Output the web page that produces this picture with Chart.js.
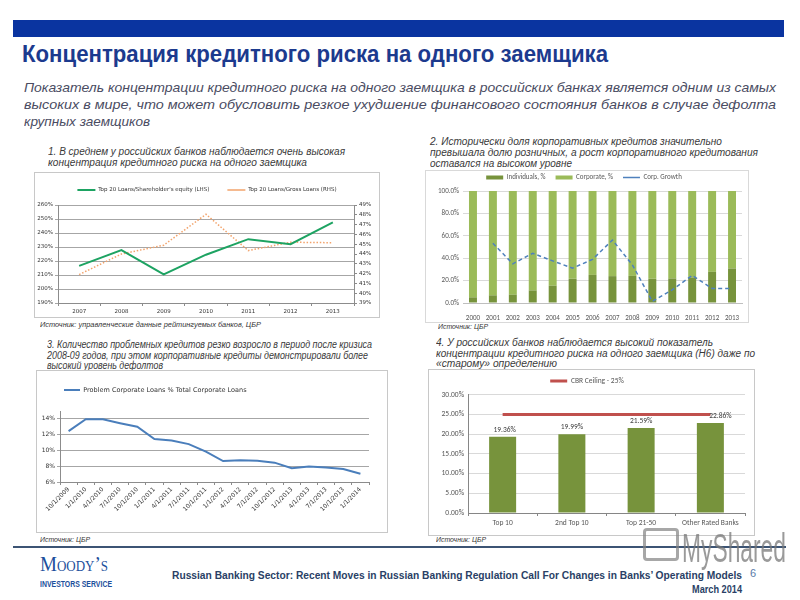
<!DOCTYPE html>
<html lang="ru"><head><meta charset="utf-8"><title>Концентрация кредитного риска на одного заемщика</title>
<script src="https://cdn.jsdelivr.net/npm/chart.js@4.4.1/dist/chart.umd.min.js"></script>
<style>
html,body{margin:0;padding:0;}
body{width:800px;height:600px;position:relative;overflow:hidden;background:#fff;font-family:"Liberation Sans",Arial,sans-serif;}
.t{position:absolute;white-space:nowrap;display:inline-block;transform-origin:0 50%;}
.n{font-family:"Liberation Sans Narrow","Liberation Sans",Arial,sans-serif;}
.cap{font-style:italic;font-size:10px;line-height:10px;color:#3A3A3A;}
.sub{font-style:italic;font-size:13px;line-height:13px;color:#4A4C62;}
.src{font-style:italic;font-size:8px;line-height:8px;color:#333;}
.box{position:absolute;box-sizing:border-box;border:1px solid #C8C8C8;background:#fff;}
canvas{position:absolute;}
</style></head><body>
<div style="position:absolute;left:13px;top:20px;width:771px;height:17px;background:#0A34A0"></div>
<div class="t n" data-w="586" style="left:22px;top:41.5px;font-weight:bold;font-size:24px;line-height:24px;color:#1C3A8E">Концентрация кредитного риска на одного заемщика</div>
<div class="t n sub" data-w="752" style="left:24px;top:80.5px">Показатель концентрации кредитного риска на одного заемщика в российских банках является одним из самых</div>
<div class="t n sub" data-w="752" style="left:24px;top:97.5px">высоких в мире, что может обусловить резкое ухудшение финансового состояния банков в случае дефолта</div>
<div class="t n sub" data-w="126" style="left:24px;top:114.5px">крупных заемщиков</div>

<div class="t n cap" data-w="297" style="left:48px;top:147px">1. В среднем у российских банков наблюдается очень высокая</div>
<div class="t n cap" data-w="259" style="left:48px;top:158px">концентрация кредитного риска на одного заемщика</div>
<div class="box" style="left:34px;top:172px;width:346px;height:146px"></div>
<canvas id="c1" width="344" height="144" style="left:35px;top:173px"></canvas>
<div class="t n src" data-w="221" style="left:40px;top:321px">Источник: управленческие данные рейтингуемых банков, ЦБР</div>

<div class="t n cap" data-w="292" style="left:430px;top:137px">2. Исторически доля корпоративных кредитов значительно</div>
<div class="t n cap" data-w="328" style="left:430px;top:148px">превышала долю розничных, а рост корпоративного кредитования</div>
<div class="t n cap" data-w="142" style="left:430px;top:159px">оставался на высоком уровне</div>
<div class="box" style="left:425px;top:170px;width:324px;height:153px;border-color:#D9D9D9"></div>
<canvas id="c2" width="322" height="151" style="left:426px;top:171px"></canvas>
<div class="t n src" data-w="50" style="left:438px;top:323px">Источник: ЦБР</div>

<div class="t n cap" data-w="325" style="left:47px;top:340px">3. Количество проблемных кредитов резко возросло в период после кризиса</div>
<div class="t n cap" data-w="321" style="left:47px;top:351px">2008-09 годов, при этом корпоративные кредиты демонстрировали более</div>
<div class="t n cap" data-w="116" style="left:47px;top:361px">высокий уровень дефолтов</div>
<div class="box" style="left:36px;top:370px;width:352px;height:163px"></div>
<canvas id="c3" width="350" height="161" style="left:37px;top:371px"></canvas>
<div class="t n src" data-w="50" style="left:40px;top:536px">Источник: ЦБР</div>

<div class="t n cap" data-w="277" style="left:436px;top:338px">4. У российских банков наблюдается высокий показатель</div>
<div class="t n cap" data-w="319" style="left:436px;top:349px">концентрации кредитного риска на одного заемщика (Н6) даже по</div>
<div class="t n cap" data-w="121" style="left:436px;top:359px">«старому» определению</div>
<div class="box" style="left:428px;top:369px;width:327px;height:167px"></div>
<canvas id="c4" width="325" height="165" style="left:429px;top:370px"></canvas>
<div class="t n src" data-w="50" style="left:436px;top:536px">Источник: ЦБР</div>

<div style="position:absolute;left:13px;top:546px;width:773px;height:2px;background:#3C5474"></div>
<div class="t" data-w="68" style="left:40px;top:553px;font-family:'Liberation Serif',serif;font-variant:small-caps;font-size:22px;line-height:22px;color:#1C4F9C">Moody’s</div>
<div class="t" data-w="72" style="left:40px;top:580px;font-weight:bold;font-size:8.5px;line-height:9px;color:#1C4F9C">INVESTORS SERVICE</div>
<div class="t n" data-w="570" style="left:172px;top:569px;font-weight:bold;font-size:11.5px;line-height:12px;color:#2A3F66">Russian Banking Sector: Recent Moves in Russian Banking Regulation Call For Changes in Banks’ Operating Models</div>
<div class="t n" data-w="50" style="left:692px;top:583px;font-weight:bold;font-size:11.5px;line-height:12px;color:#2A3F66">March 2014</div>
<div class="t n" style="left:750px;top:567px;font-size:11px;line-height:12px;color:#5A7AA8">6</div>
<div style="position:absolute;left:643px;top:528px;width:30px;height:27px;border:3px solid rgba(130,130,130,0.7);border-radius:4px"></div>
<div class="t" data-w="104" style="left:682px;top:527px;font-size:40px;line-height:42px;color:rgba(120,120,120,0.75)">MyShared</div>

<script>
// ---------- data ----------
const c1Years = ['2007','2008','2009','2010','2011','2012','2013'];
const c1EquityPct = [216.5, 227.8, 210.5, 224.5, 235.6, 232.0, 247.6];
const c1GrossPct = [41.9, 44.0, 44.9, 48.05, 44.35, 45.2, 45.15];
const c1LeftTicks = [190, 200, 210, 220, 230, 240, 250, 260];
const c1RightTicks = [39, 40, 41, 42, 43, 44, 45, 46, 47, 48, 49];

const c2Years = ['2000','2001','2002','2003','2004','2005','2006','2007','2008','2009','2010','2011','2012','2013'];
const c2Individuals = [5.0, 6.8, 7.4, 11.2, 15.4, 21.6, 25.1, 24.0, 24.2, 21.6, 21.9, 22.8, 27.8, 30.8];
const c2Corporate = [95.0, 93.2, 92.6, 88.8, 84.6, 78.4, 74.9, 76.0, 75.8, 78.4, 78.1, 77.2, 72.2, 69.2];
const c2CorpGrowth = [null, 53.3, 35.0, 44.4, 37.6, 31.1, 39.0, 56.2, 34.0, 1.5, 11.8, 24.6, 13.0, 13.0];
const c2Ticks = [0, 10, 20, 30, 40, 50, 60, 70, 80, 90, 100];

const c3Dates = ['10/1/2009','1/1/2010','4/1/2010','7/1/2010','10/1/2010','1/1/2011','4/1/2011','7/1/2011','10/1/2011','1/1/2012','4/1/2012','7/1/2012','10/1/2012','1/1/2013','4/1/2013','7/1/2013','10/1/2013','1/1/2014'];
const c3ProblemLoans = [12.45, 13.95, 13.95, 13.45, 13.0, 11.45, 11.25, 10.8, 9.85, 8.65, 8.75, 8.7, 8.45, 7.75, 7.95, 7.85, 7.65, 7.05];
const c3Ticks = [6, 8, 10, 12, 14];

const c4Groups = ['Top 10', '2nd Top 10', 'Top 21-50', 'Other Rated Banks'];
const c4Concentration = [19.36, 19.99, 21.59, 22.86];
const c4Ceiling = [25, 25, 25, 25];
const c4Ticks = [0, 5, 10, 15, 20, 25, 30];

// ---------- text fitting ----------
function fitText(){
  document.querySelectorAll('[data-w]').forEach(el=>{
    el.style.transform='none';
    const w = el.getBoundingClientRect().width;
    el.style.transform = 'scaleX(' + (parseFloat(el.dataset.w)/w) + ')';
  });
}
fitText();

// ---------- chart helpers ----------
Chart.defaults.animation = false;
Chart.defaults.responsive = false;
Chart.defaults.maintainAspectRatio = false;
Chart.defaults.devicePixelRatio = 1;
Chart.defaults.events = [];
Chart.defaults.plugins.tooltip.enabled = false;
const F1 = "'DejaVu Sans', sans-serif";
const F2 = "Carlito, Lato, sans-serif";
Chart.defaults.font.family = F2;
const tickSet = arr => scale => { scale.ticks = arr.map(v => ({value: v})); };
const fixW = w => s => { s.width = w; };
const fixH = h => s => { s.height = h; };

// chart 1
new Chart(document.getElementById('c1'), {
  type: 'line',
  data: { labels: c1Years, datasets: [
    { label: "Top 20 Loans/Shareholder's equity (LHS)", data: c1EquityPct, yAxisID: 'y', borderColor: '#1DA362', backgroundColor: '#1DA362', borderWidth: 2, pointRadius: 0, pointStyle: 'line' },
    { label: 'Top 20 Loans/Gross Loans (RHS)', data: c1GrossPct, yAxisID: 'y2', borderColor: '#F2A36B', backgroundColor: '#F2A36B', borderWidth: 1.5, borderDash: [1.5, 1.8], pointRadius: 0, pointStyle: 'line' }
  ]},
  options: {
    layout: { padding: { top: -3.75, left: 0, right: 0, bottom: 0 } },
    plugins: {
      legend: { labels: { usePointStyle: true, pointStyleWidth: 18, boxHeight: 2, padding: 18, font: { family: F1, size: 5.5 }, color: '#333' } },
      title: { display: true, text: '', weight: 500, padding: 0, font: { size: 2.25, lineHeight: 1 } }
    },
    scales: {
      x: { offset: true, grid: { offset: true, drawOnChartArea: false, tickLength: 3, color: '#8C8C8C' }, border: { color: '#8C8C8C' },
           ticks: { font: { family: F1, size: 5.5 }, color: '#333', padding: 2, maxRotation: 0, autoSkip: false }, afterFit: fixH(14) },
      y: { min: 190, max: 260, afterBuildTicks: tickSet(c1LeftTicks), grid: { color: '#A6A6A6', tickLength: 3 }, border: { color: '#8C8C8C' },
           ticks: { font: { family: F1, size: 5.5 }, color: '#333', padding: 2, callback: v => v + '%' }, afterFit: fixW(23) },
      y2: { position: 'right', min: 39, max: 49, afterBuildTicks: tickSet(c1RightTicks), grid: { drawOnChartArea: false, tickLength: 3, color: '#8C8C8C' }, border: { color: '#8C8C8C' },
           ticks: { font: { family: F1, size: 5.5 }, color: '#333', padding: 2, callback: v => v + '%' }, afterFit: fixW(25) }
    }
  }
});

// chart 2
new Chart(document.getElementById('c2'), {
  type: 'bar',
  data: { labels: c2Years, datasets: [
    { label: 'Individuals, %', data: c2Individuals, backgroundColor: '#77933C', stack: 'share', pointStyle: 'rect', order: 1 },
    { label: 'Corporate, %', data: c2Corporate, backgroundColor: '#9BBB59', stack: 'share', pointStyle: 'rect', order: 1 },
    { type: 'line', label: 'Corp. Growth', data: c2CorpGrowth, borderColor: '#4F81BD', backgroundColor: '#4F81BD', borderWidth: 1.5, borderDash: [4, 3], pointRadius: 0, pointStyle: 'line', stack: 'growth', order: 0 }
  ]},
  options: {
    layout: { padding: { top: -7, left: 0, right: 6, bottom: 0 } },
    datasets: { bar: { categoryPercentage: 1, barPercentage: 0.4 } },
    plugins: {
      legend: { labels: { usePointStyle: true, pointStyleWidth: 17, boxHeight: 4, padding: 10, font: { family: F2, size: 7 }, color: '#595959', sort: (a, b) => a.datasetIndex - b.datasetIndex } }
    },
    scales: {
      x: { stacked: true, grid: { display: false }, border: { color: '#BFBFBF' },
           ticks: { font: { family: F2, size: 7 }, color: '#595959', padding: 3, maxRotation: 0, autoSkip: false }, afterFit: fixH(19) },
      y: { stacked: true, min: 0, max: 100, afterBuildTicks: tickSet(c2Ticks), grid: { color: '#D9D9D9', drawTicks: false }, border: { display: false },
           ticks: { font: { family: F2, size: 7 }, color: '#595959', padding: 4, callback: v => v.toFixed(1) + '%' }, afterFit: fixW(37) }
    }
  }
});

// chart 3
new Chart(document.getElementById('c3'), {
  type: 'line',
  data: { labels: c3Dates, datasets: [
    { label: 'Problem Corporate Loans % Total Corporate Loans', data: c3ProblemLoans, borderColor: '#4A7EBB', backgroundColor: '#4A7EBB', borderWidth: 2, pointRadius: 0, pointStyle: 'line' }
  ]},
  options: {
    layout: { padding: { top: -11.25, left: 0, right: 18, bottom: 0 } },
    plugins: {
      legend: { align: 'start', labels: { usePointStyle: true, pointStyleWidth: 16, boxHeight: 2, padding: 27, font: { family: F1, size: 6.5 }, color: '#333' } },
      title: { display: true, text: '', weight: 500, padding: 0, font: { size: 7.75, lineHeight: 1 } }
    },
    scales: {
      x: { offset: true, grid: { offset: true, drawOnChartArea: false, tickLength: 3, color: '#8C8C8C' }, border: { color: '#8C8C8C' },
           ticks: { font: { family: F1, size: 6 }, color: '#333', padding: 1, minRotation: 45, maxRotation: 45, autoSkip: false }, afterFit: fixH(50) },
      y: { min: 6, max: 15, afterBuildTicks: tickSet(c3Ticks), grid: { color: '#A6A6A6', tickLength: 3 }, border: { color: '#8C8C8C' },
           ticks: { font: { family: F1, size: 6 }, color: '#333', padding: 2, callback: v => v + '%' }, afterFit: fixW(23) }
    }
  }
});

// chart 4
const c4LabelShift = [2, 0, 0, 10];
const barValueLabels = {
  id: 'barValueLabels',
  afterDatasetsDraw(chart) {
    const meta = chart.getDatasetMeta(0);
    const ctx = chart.ctx;
    ctx.save();
    ctx.font = '7.5px ' + F2;
    ctx.fillStyle = '#404040';
    ctx.textAlign = 'center';
    ctx.textBaseline = 'bottom';
    meta.data.forEach((el, i) => {
      ctx.fillText(chart.data.datasets[0].data[i].toFixed(2) + '%', el.x + c4LabelShift[i], el.y - 3);
    });
    ctx.restore();
  }
};
new Chart(document.getElementById('c4'), {
  type: 'bar',
  data: { labels: c4Groups, datasets: [
    { label: 'H6', data: c4Concentration, backgroundColor: '#77933C', order: 1, categoryPercentage: 1, barPercentage: 0.39 },
    { type: 'line', label: 'CBR Ceiling - 25%', data: c4Ceiling, borderColor: '#C0504D', backgroundColor: '#C0504D', borderWidth: 3, pointRadius: 0, pointStyle: 'line', order: 0 }
  ]},
  options: {
    layout: { padding: { top: -2.75, left: 0, right: 9, bottom: 0 } },
    plugins: {
      legend: { labels: { usePointStyle: true, pointStyleWidth: 17, boxHeight: 3, padding: 10, font: { family: F2, size: 7.5 }, color: '#595959', filter: item => item.datasetIndex === 1 } }
    },
    scales: {
      x: { grid: { drawOnChartArea: false, tickLength: 3, color: '#868686' }, border: { color: '#868686' },
           ticks: { font: { family: F2, size: 7.5 }, color: '#595959', padding: 3, maxRotation: 0, autoSkip: false }, afterFit: fixH(22) },
      y: { min: 0, max: 30, afterBuildTicks: tickSet(c4Ticks), grid: { color: '#D9D9D9', drawTicks: false }, border: { color: '#868686' },
           ticks: { font: { family: F2, size: 7.5 }, color: '#595959', padding: 4, callback: v => v.toFixed(2) + '%' }, afterFit: fixW(39) }
    }
  },
  plugins: [barValueLabels]
});
if (document.fonts && document.fonts.ready) document.fonts.ready.then(fitText);
</script>
</body></html>
